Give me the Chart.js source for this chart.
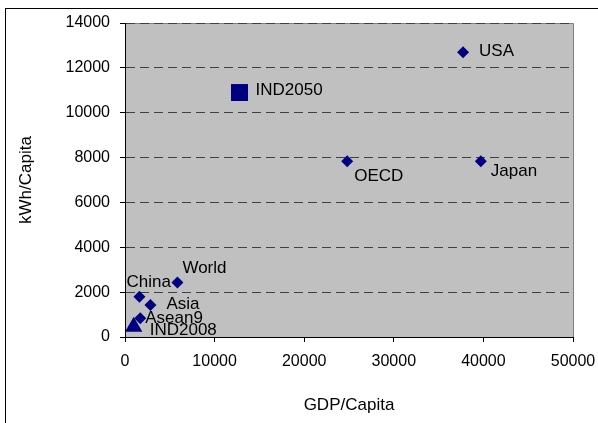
<!DOCTYPE html>
<html>
<head>
<meta charset="utf-8">
<script src="https://cdn.jsdelivr.net/npm/chart.js@4/dist/chart.umd.min.js"></script>
<style>
  html, body { margin: 0; padding: 0; background: #ffffff; }
  #wrap { width: 598px; height: 423px; position: relative; }
</style>
</head>
<body>
<div id="wrap"><canvas id="chart" width="598" height="423"></canvas></div>
<script>
// Electricity use versus income, per capita
const regions      = ['USA', 'IND2050', 'OECD', 'Japan', 'World', 'China', 'Asia', 'Asean9', 'IND2008'];
const gdpPerCapita = [37730, 12780, 24800, 39710, 5850, 1610, 2840, 1700, 970];
const kwhPerCapita = [12700, 10900, 7840, 7840, 2430, 1800, 1430, 840, 460];

const xTickValues = [0, 10000, 20000, 30000, 40000, 50000];
const yTickValues = [0, 2000, 4000, 6000, 8000, 10000, 12000, 14000];

// Where each region's name sits relative to its marker (px: right, down)
const labelOffsets = {
  USA: [16, -1], IND2050: [16, -2], OECD: [7, 15], Japan: [10, 10],
  World: [5, -14], China: [-13, -14], Asia: [16, -1], Asean9: [5, 0], IND2008: [16, 4]
};

const NAVY = '#000080';
const FONT = 'Liberation Sans, Arial, sans-serif';

const points = regions.map((name, i) => ({ x: gdpPerCapita[i], y: kwhPerCapita[i], name }));

const frame = {
  id: 'frame',
  beforeDraw(chart) {
    const { ctx, chartArea: a } = chart;
    ctx.save();
    ctx.fillStyle = '#ffffff';
    ctx.fillRect(0, 0, chart.width, chart.height);
    // outer chart border
    ctx.strokeStyle = '#000000';
    ctx.lineWidth = 1;
    ctx.strokeRect(5.5, 8.5, 1000, 1000);
    // plot area
    ctx.fillStyle = '#c0c0c0';
    ctx.fillRect(a.left, a.top, a.right - a.left, a.bottom - a.top);
    ctx.strokeStyle = '#808080';
    ctx.beginPath();
    ctx.moveTo(Math.round(a.left) + 0.5, Math.round(a.top) + 0.5);
    ctx.lineTo(Math.round(a.right) + 0.5, Math.round(a.top) + 0.5);
    ctx.lineTo(Math.round(a.right) + 0.5, Math.round(a.bottom) + 0.5);
    ctx.stroke();
    ctx.restore();
  }
};

const pointNames = {
  id: 'pointNames',
  afterDatasetsDraw(chart) {
    const { ctx } = chart;
    const meta = chart.getDatasetMeta(0);
    ctx.save();
    ctx.font = '17px ' + FONT;
    ctx.fillStyle = '#000000';
    ctx.textAlign = 'left';
    ctx.textBaseline = 'middle';
    meta.data.forEach((el, i) => {
      const name = points[i].name;
      const [dx, dy] = labelOffsets[name] || [8, 0];
      ctx.fillText(name, el.x + dx, el.y + dy);
    });
    ctx.restore();
  }
};

new Chart(document.getElementById('chart'), {
  type: 'scatter',
  data: {
    datasets: [{
      data: points,
      backgroundColor: NAVY,
      borderColor: NAVY,
      borderWidth: 0,
      pointStyle: c => {
        const n = c.raw && c.raw.name;
        return n === 'IND2050' ? 'rect' : n === 'IND2008' ? 'triangle' : 'rectRot';
      },
      pointRadius: c => {
        const n = c.raw && c.raw.name;
        return n === 'IND2050' ? 12 : n === 'IND2008' ? 10 : 6;
      },
      pointHoverRadius: 0
    }]
  },
  options: {
    responsive: false,
    animation: false,
    events: [],
    clip: false,
    layout: { padding: { left: 5, top: 23, right: 25, bottom: 5 } },
    plugins: { legend: { display: false }, tooltip: { enabled: false } },
    scales: {
      x: {
        type: 'linear',
        min: 0, max: 50000,
        afterBuildTicks: s => { s.ticks = xTickValues.map(v => ({ value: v })); },
        afterFit: s => { s.height = 81; s.paddingLeft = 0; s.paddingRight = 0; },
        ticks: {
          color: '#000000',
          font: { family: FONT, size: 16 },
          padding: 10,
          maxRotation: 0,
          callback: v => String(v)
        },
        grid: { drawOnChartArea: false, drawTicks: true, tickLength: 5, tickColor: '#000000' },
        border: { display: true, color: '#000000', width: 1 },
        title: {
          display: true, text: 'GDP/Capita', color: '#000000',
          font: { family: FONT, size: 17 },
          padding: { top: 0, bottom: 2 }
        }
      },
      y: {
        type: 'linear',
        min: 0, max: 14000,
        afterBuildTicks: s => { s.ticks = yTickValues.map(v => ({ value: v })); },
        afterFit: s => { s.width = 125 - 5; s.paddingTop = 0; s.paddingBottom = 0; },
        ticks: {
          color: '#000000',
          font: { family: FONT, size: 16 },
          padding: 10,
          callback: v => String(v)
        },
        grid: {
          color: '#404040', lineWidth: 1,
          drawTicks: true, tickLength: 5, tickColor: '#000000', tickBorderDash: []
        },
        border: { display: true, color: '#000000', width: 1, dash: [9, 5] },
        title: {
          display: true, text: 'kWh/Capita', color: '#000000',
          font: { family: FONT, size: 17 },
          padding: { top: 11, bottom: 0 }
        }
      }
    }
  },
  plugins: [frame, pointNames]
});
</script>
</body>
</html>
